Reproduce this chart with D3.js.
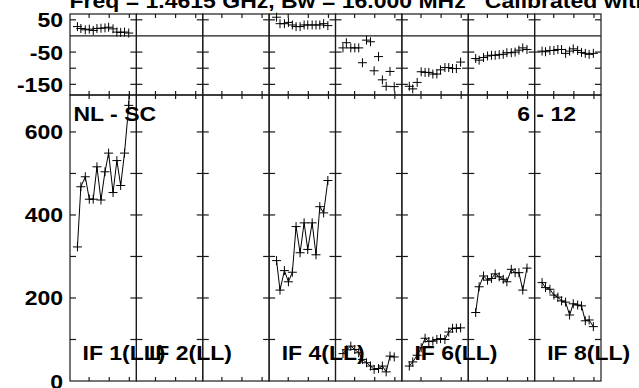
<!DOCTYPE html>
<html><head><meta charset="utf-8">
<script src="https://cdn.jsdelivr.net/npm/d3@7"></script>
<style>
html,body{margin:0;padding:0;background:#fff;}
svg{display:block;}
text{font-family:"Liberation Sans",Arial,Helvetica,sans-serif;font-weight:bold;font-size:20px;fill:#000;white-space:pre;}
</style></head>
<body>
<script>
// ---------- data ----------
const titleText = "Freq = 1.4615 GHz, Bw = 16.000 MHz   Calibrated with";
const baselineLabel = "NL - SC";
const pageLabel = "6 - 12";
const ifLabels = ["IF 1(LL)","IF 2(LL)","IF 3(LL)","IF 4(LL)","IF 5(LL)","IF 6(LL)","IF 7(LL)","IF 8(LL)"];
const ifLabelShown = [true,true,false,true,false,true,false,true];
const scanTimes = [7.4,10.8,15.2,19.2,23.1,26.8,30.8,34.8,38.4,42.8,46.6,50.4,54.2,58.4,61.5]; // minutes within panel
const timeTicks = [19,39,59];
const ampTicks = [100,200,300,400,500,600];
const ampTickLabels = [0,200,400,600];
const phaseTicks = [50,-50,-100,-150];
const phaseTickLabels = [50,-50,-150];

const ampIF1 = [323,468,492,438,438,516,436,504,549,454,531,471,549,664,860];
const ampIF2 = [];
const ampIF3 = [];
const ampIF4 = [290,219,266,239,262,372,309,381,317,381,304,420,405,483];
const ampIF5 = [66,75,84,76,68,52,44,36,28,30,36,22,60,58];
const ampIF6 = [36,46,62,80,103,95,96,100,102,100,118,127,127,128];
const ampIF7 = [165,227,253,243,247,258,251,245,239,269,261,261,219,272];
const ampIF8 = [237,225,221,207,202,193,190,159,186,183,181,145,147,131];

const phIF1 = [29,23,19,21,17,23,24,25,27,22,12,11,12,9];
const phIF2 = [];
const phIF3 = [];
const phIF4 = [58,38,38,42,34,29,29,34,34,34,34,34,38,32];
const phIF5 = [-37,-21,-37,-37,-37,-83,-13,-18,-108,-64,-136,-156,-110,-157];
const phIF6 = [-156,-164,-144,-111,-113,-113,-118,-118,-105,-98,-98,-101,-101,-81];
const phIF7 = [-70,-75,-67,-62,-60,-60,-58,-57,-52,-52,-50,-44,-37,-42];
const phIF8 = [-47,-49,-45,-45,-42,-42,-54,-47,-40,-45,-51,-54,-57,-54];

const ampSeries = [ampIF1,ampIF2,ampIF3,ampIF4,ampIF5,ampIF6,ampIF7,ampIF8];
const phSeries = [phIF1,phIF2,phIF3,phIF4,phIF5,phIF6,phIF7,phIF8];

// ---------- layout ----------
const W = 639, H = 388;
const plotL = 70, plotR = 601;
const phTop = 14, phBot = 95, ampTop = 95, ampBot = 381;
const nPanels = 8;
const SX = 1.15;

const svg = d3.select("body").append("svg").attr("width",W).attr("height",H);

const panelX = d3.scaleLinear().domain([0,nPanels]).range([plotL,plotR]);
const yAmp = d3.scaleLinear().domain([0,689]).range([ampBot,ampTop]);
const yPh = d3.scaleLinear().domain([-183,68]).range([phBot,phTop]);

svg.append("defs").append("clipPath").attr("id","ampclip")
  .append("rect").attr("x",plotL).attr("y",ampTop).attr("width",plotR-plotL).attr("height",ampBot-ampTop);

const stroke = "#1a1a1a";

function plusPath(x,y,r){ return `M${x-r},${y}H${x+r}M${x},${y-r}V${y+r}`; }

// frames and ticks
for(let i=0;i<nPanels;i++){
  const x0 = panelX(i), x1 = panelX(i+1);
  const xT = d3.scaleLinear().domain([0,66]).range([x0,x1]);
  const g = svg.append("g");
  g.append("rect").attr("x",x0).attr("y",phTop).attr("width",x1-x0).attr("height",phBot-phTop)
    .attr("fill","none").attr("stroke",stroke).attr("stroke-width",1.2);
  g.append("rect").attr("x",x0).attr("y",ampTop).attr("width",x1-x0).attr("height",ampBot-ampTop)
    .attr("fill","none").attr("stroke",stroke).attr("stroke-width",1.2);
  timeTicks.forEach(t=>{
    const x = xT(t);
    [[phTop,4],[phBot,-4],[ampTop,4],[ampBot,-4]].forEach(([y,d])=>{
      g.append("line").attr("x1",x).attr("x2",x).attr("y1",y).attr("y2",y+d)
        .attr("stroke",stroke).attr("stroke-width",1.2);
    });
  });
  ampTicks.forEach(v=>{
    const y = yAmp(v);
    g.append("line").attr("x1",x0).attr("x2",x0+6).attr("y1",y).attr("y2",y).attr("stroke",stroke).attr("stroke-width",1.2);
    g.append("line").attr("x1",x1-6).attr("x2",x1).attr("y1",y).attr("y2",y).attr("stroke",stroke).attr("stroke-width",1.2);
  });
  phaseTicks.forEach(v=>{
    const y = yPh(v);
    g.append("line").attr("x1",x0).attr("x2",x0+6).attr("y1",y).attr("y2",y).attr("stroke",stroke).attr("stroke-width",1.2);
    g.append("line").attr("x1",x1-6).attr("x2",x1).attr("y1",y).attr("y2",y).attr("stroke",stroke).attr("stroke-width",1.2);
  });
  g.append("line").attr("x1",x0).attr("x2",x1).attr("y1",yPh(0)).attr("y2",yPh(0)).attr("stroke",stroke).attr("stroke-width",1.2);

  const amps = ampSeries[i];
  if(amps.length){
    const pts = amps.map((v,k)=>[xT(scanTimes[k]), yAmp(v)]);
    const cg = svg.append("g").attr("clip-path","url(#ampclip)");
    cg.append("path").attr("d",d3.line()(pts)).attr("fill","none").attr("stroke","#000").attr("stroke-width",1);
    cg.append("path").attr("d",pts.map(p=>plusPath(p[0],p[1],4.5)).join("")).attr("fill","none").attr("stroke","#000").attr("stroke-width",1);
  }
  const phs = phSeries[i];
  if(phs.length){
    const pts = phs.map((v,k)=>[xT(scanTimes[k]), yPh(v)]);
    svg.append("path").attr("d",pts.map(p=>plusPath(p[0],p[1],4.5)).join("")).attr("fill","none").attr("stroke","#000").attr("stroke-width",1);
  }
}

function label(x,y,txt,anchor){
  svg.append("text").attr("transform",`translate(${x},${y}) scale(${SX},1)`)
    .attr("text-anchor",anchor||"start").text(txt);
}
ampTickLabels.forEach(v=>label(63, yAmp(v)+7.5, v, "end"));
phaseTickLabels.forEach(v=>label(63, yPh(v)+7.5, v, "end"));

label(69.5, 8, titleText, "start");
label(73.5, 121, baselineLabel, "start");
label(576, 121, pageLabel, "end");
ifLabels.forEach((t,i)=>{ if(ifLabelShown[i]) label(panelX(i)+12.5, 360, t, "start"); });
</script>
</body></html>
